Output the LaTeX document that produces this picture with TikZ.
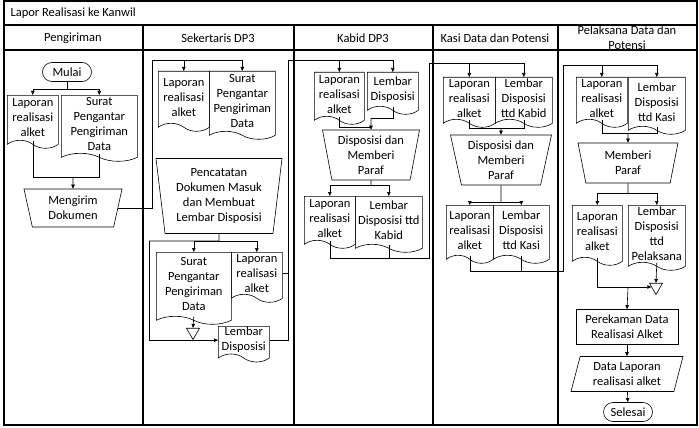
\documentclass[tikz,border=0pt]{standalone}
\usepackage{fontspec}
\setmainfont{Carlito}
\usetikzlibrary{shapes.geometric,shapes.symbols,shapes.misc,arrows.meta}

\begin{document}
\begin{tikzpicture}[x=1pt,y=-1pt,>={Triangle[length=4pt,width=3.5pt]},
every node/.style={font=\fontsize{12.5}{15}\selectfont,align=center},
lane/.style={line width=1.2pt},
line/.style={line width=0.6pt},
doc/.style={draw,line width=0.6pt,tape,tape bend top=none,tape bend bottom=out and in,tape bend height=8pt,anchor=north west,inner sep=1pt},
manual/.style={draw,line width=0.6pt,trapezium,shape border rotate=180,trapezium stretches body,inner sep=1pt},
term/.style={draw,line width=0.6pt,rounded rectangle,minimum width=51pt,minimum height=19pt,inner sep=1pt},
proc/.style={draw,line width=0.6pt,minimum width=102pt,minimum height=35pt,inner sep=1pt},
io/.style={draw,line width=0.6pt,trapezium,trapezium left angle=70,trapezium right angle=110,trapezium stretches body,minimum width=112pt,minimum height=35pt,inner sep=1pt},
merge/.style={draw,line width=0.6pt,regular polygon,regular polygon sides=3,shape border rotate=180,minimum size=15pt,inner sep=0pt}
]
\useasboundingbox (0,0) rectangle (699,428);
\draw[lane] (4,1) rectangle (697,425);
\draw[lane] (4,25) -- (697,25);
\draw[lane] (4,50) -- (697,50);
\foreach \x in {143,294,433,558} \draw[lane] (\x,25) -- (\x,425);

\node[anchor=west] (title) at (7,13) {Lapor Realisasi ke Kanwil};
\node (hKirim) at (73,38) {Pengiriman};
\node (hSekr) at (218,38) {Sekertaris DP3};
\node (hKabid) at (363,38) {Kabid DP3};
\node (hKasi) at (495,38) {Kasi Data dan Potensi};
\node (hPelak) at (627,38) {Pelaksana Data dan\\Potensi};

\node[term] (mulai) at (67,72) {Mulai};
\node[doc,minimum width=51pt,minimum height=53pt] (lapA) at (7,95) {Laporan\\realisasi\\alket};
\node[doc,minimum width=76pt,minimum height=66pt] (suratA) at (61,95) {Surat\\Pengantar\\Pengiriman\\Data};
\node[manual,trapezium angle=72,minimum width=98pt,minimum height=38pt] (kirim) at (73,208) {Mengirim\\Dokumen};
\coordinate (sA) at (67,89);
\coordinate (jA) at (73,177);
\draw[line,->] (mulai.south) -- (sA) -| (lapA.north);
\draw[line,->] (sA) -| (suratA.north);
\draw[line] (lapA.south) |- (jA);
\draw[line] (suratA.south) |- (jA);
\draw[line,->] (jA) -- (kirim.north);

\node[doc,minimum width=51pt,minimum height=60pt] (lapB) at (158,71) {Laporan\\realisasi\\alket};
\node[doc,minimum width=66pt,minimum height=68pt] (suratB) at (209,71) {Surat\\Pengantar\\Pengiriman\\Data};
\node[manual,trapezium angle=81,minimum width=126pt,minimum height=75pt] (catat) at (219,196) {Pencatatan\\Dokumen Masuk\\dan Membuat\\Lembar Disposisi};
\node[doc,minimum width=75pt,minimum height=72pt] (suratC) at (156,252) {Surat\\Pengantar\\Pengiriman\\Data};
\node[doc,minimum width=51pt,minimum height=50pt] (lapC) at (231,252) {Laporan\\realisasi\\alket};
\node[merge] (triB) at (193,332) {};
\node[doc,minimum width=51pt,minimum height=33pt] (lembarB) at (218,326) {Lembar\\Disposisi};
\coordinate (busB) at (152,60);
\coordinate (sB) at (219,241);
\coordinate (sBl) at (149,241);
\coordinate (busC) at (288,60);
\draw[line,->] (kirim.east) -| (busB) -| (lapB.north);
\draw[line,->] (busB) -| (suratB.north);
\draw[line] (catat.south) -- (sB) -- (sBl);
\draw[line,->] (sB) -| (suratC.north);
\draw[line,->] (sB) -| (lapC.north);
\draw[line,->] (suratC.south) -- (triB.north);
\draw[line,->] (sBl) |- (lembarB.west);
\draw[line] (lapC.east) -| (busC);
\draw[line] (lembarB.east) -| (busC);

\node[doc,minimum width=50pt,minimum height=52pt] (lapD) at (314,72) {Laporan\\realisasi\\alket};
\node[doc,minimum width=51pt,minimum height=42pt] (lembarD) at (367,72) {Lembar\\Disposisi};
\node[manual,trapezium angle=77,minimum width=97pt,minimum height=50pt] (parafD) at (371,155) {Disposisi dan\\Memberi\\Paraf};
\node[doc,minimum width=51pt,minimum height=52pt] (lapE) at (304,196) {Laporan\\realisasi\\alket};
\node[doc,minimum width=67pt,minimum height=56pt] (lembarE) at (355,196) {Lembar\\Disposisi ttd\\Kabid};
\coordinate (jD) at (371,118);
\coordinate (kD) at (371,127);
\coordinate (sD) at (371,185);
\coordinate (bE) at (429,258);
\coordinate (busE) at (429,63);
\draw[line,->] (busC) -| (lapD.north);
\draw[line,->] (busC) -| (lembarD.north);
\draw[line] (lembarD.south) |- (jD);
\draw[line] (lapD.south) |- (kD);
\draw[line,->] (jD) -- (parafD.north);
\draw[line] (parafD.south) -- (sD);
\draw[line,->] (sD) -| (lapE.north);
\draw[line,->] (sD) -| (lembarE.north);
\draw[line] (lapE.south) |- (bE) -- (busE);
\draw[line] (lembarE.south) |- (bE);

\node[doc,minimum width=52pt,minimum height=50pt] (lapF) at (443,77) {Laporan\\realisasi\\alket};
\node[doc,minimum width=57pt,minimum height=50pt] (lembarF) at (495,77) {Lembar\\Disposisi\\ttd Kabid};
\node[manual,trapezium angle=75,minimum width=101pt,minimum height=50pt] (parafF) at (501,160) {Disposisi dan\\Memberi\\Paraf};
\node[doc,minimum width=47pt,minimum height=58pt] (lapG) at (446,205) {Laporan\\realisasi\\alket};
\node[doc,minimum width=56pt,minimum height=58pt] (lembarG) at (493,205) {Lembar\\Disposisi\\ttd Kasi};
\coordinate (jF) at (501,128);
\coordinate (sF) at (501,202);
\coordinate (bG) at (563,271);
\coordinate (busG) at (563,65);
\draw[line,->] (busE) -| (lapF.north);
\draw[line,->] (busE) -| (lembarF.north);
\draw[line] (lapF.south) |- (jF);
\draw[line] (lembarF.south) |- (jF);
\draw[line,->] (jF) -- (parafF.north);
\draw[line] (parafF.south) -- (sF);
\draw[line,->] (sF) -| (lapG.north);
\draw[line,->] (sF) -| (lembarG.north);
\draw[line] (lapG.south) |- (bG) -- (busG);
\draw[line] (lembarG.south) |- (bG);

\node[doc,minimum width=51pt,minimum height=50pt] (lapH) at (576,77) {Laporan\\realisasi\\alket};
\node[doc,minimum width=57pt,minimum height=57pt] (lembarH) at (628,77) {Lembar\\Disposisi\\ttd Kasi};
\node[manual,trapezium angle=73,minimum width=100pt,minimum height=40pt] (parafH) at (628,163) {Memberi\\Paraf};
\node[doc,minimum width=50pt,minimum height=60pt] (lapI) at (572,205) {Laporan\\realisasi\\alket};
\node[doc,minimum width=57pt,minimum height=65pt] (lembarI) at (628,205) {Lembar\\Disposisi\\ttd\\Pelaksana};
\node[merge] (triH) at (656,287) {};
\node[proc] (rekam) at (627,327) {Perekaman Data\\Realisasi Alket};
\node[io] (dataH) at (627,374) {Data Laporan\\realisasi alket};
\node[term] (selesai) at (628,412) {Selesai};
\coordinate (jH) at (628,133);
\coordinate (sH) at (628,193);
\coordinate (jI) at (628,288);
\draw[line,->] (busG) -| (lapH.north);
\draw[line,->] (busG) -| (lembarH.north);
\draw[line] (lapH.south) |- (jH);
\draw[line] (lembarH.south) |- (jH);
\draw[line,->] (jH) -- (parafH.north);
\draw[line] (parafH.south) -- (sH);
\draw[line,->] (sH) -| (lapI.north);
\draw[line,->] (sH) -| (lembarI.north);
\draw[line,->] (lapI.south) |- (triH.west);
\draw[line,->] (lembarI.south) -- (triH.north);
\draw[line,->] (jI) -- (rekam.north);
\draw[line,->] (rekam) -- (dataH);
\draw[line,->] (dataH) -- (selesai);
\end{tikzpicture}
\end{document}
